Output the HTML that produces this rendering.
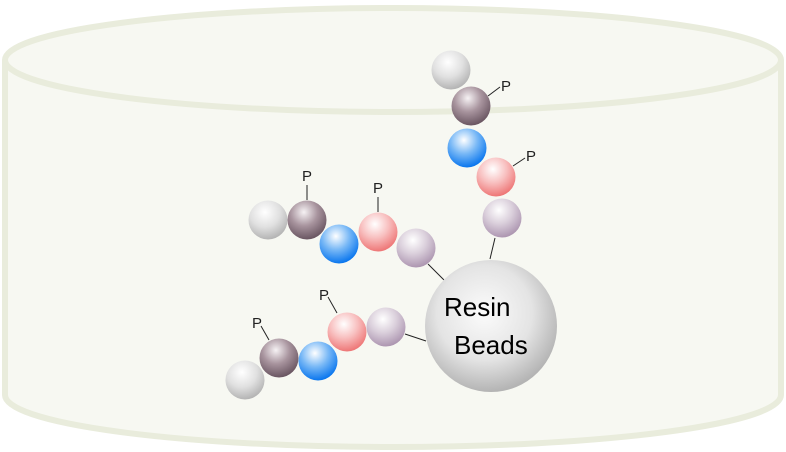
<!DOCTYPE html>
<html><head><style>html,body{margin:0;padding:0;background:#fff}svg{display:block}</style></head><body>
<svg width="786" height="452" viewBox="0 0 786 452" xmlns="http://www.w3.org/2000/svg">
<defs>
<radialGradient id="g" cx="42%" cy="30%" r="70%"><stop offset="0" stop-color="#fff"/><stop offset="0.55" stop-color="#e0e0e0"/><stop offset="1" stop-color="#b4b4b4"/></radialGradient>
<radialGradient id="d" cx="42%" cy="30%" r="70%"><stop offset="0" stop-color="#f6f2f4"/><stop offset="0.5" stop-color="#a8949e"/><stop offset="1" stop-color="#6a5662"/></radialGradient>
<radialGradient id="b" cx="42%" cy="30%" r="70%"><stop offset="0" stop-color="#fff"/><stop offset="0.5" stop-color="#78b8f6"/><stop offset="1" stop-color="#0a76ee"/></radialGradient>
<radialGradient id="p" cx="42%" cy="30%" r="70%"><stop offset="0" stop-color="#fff"/><stop offset="0.5" stop-color="#f8c0c0"/><stop offset="1" stop-color="#ee7777"/></radialGradient>
<radialGradient id="l" cx="42%" cy="30%" r="70%"><stop offset="0" stop-color="#fff"/><stop offset="0.5" stop-color="#dacfdb"/><stop offset="1" stop-color="#ad96b1"/></radialGradient>
<radialGradient id="r" cx="45%" cy="40%" r="60%"><stop offset="0" stop-color="#fbfbfb"/><stop offset="0.6" stop-color="#e4e4e4"/><stop offset="1" stop-color="#b4b4b4"/></radialGradient>
</defs>
<path d="M5,60 L5,395 A388,52 0 0 0 781,395 L781,60" fill="#f7f8f2" stroke="#e9ecdc" stroke-width="6"/>
<ellipse cx="393" cy="60" rx="388" ry="52" fill="#f7f8f2" stroke="#e9ecdc" stroke-width="6"/>
<g stroke="#222" stroke-width="1" fill="none">
<line x1="488" y1="96" x2="500" y2="87"/>
<line x1="513" y1="166" x2="525" y2="158"/>
<line x1="495" y1="238" x2="490" y2="259"/>
<line x1="307" y1="200" x2="307" y2="185"/>
<line x1="378" y1="212" x2="378" y2="197"/>
<line x1="428" y1="264" x2="444" y2="280"/>
<line x1="337" y1="313" x2="328" y2="297"/>
<line x1="269" y1="340" x2="261" y2="326"/>
<line x1="405" y1="334" x2="426" y2="341"/>
</g>
<g font-family="Liberation Sans, sans-serif" font-size="15" fill="#222">
<text x="501" y="91">P</text><text x="526" y="161">P</text>
<text x="302" y="181">P</text><text x="373" y="193">P</text>
<text x="319" y="300">P</text><text x="252" y="328">P</text>
</g>
<circle cx="451" cy="70" r="19.5" fill="url(#g)"/>
<circle cx="471" cy="106" r="19.5" fill="url(#d)"/>
<circle cx="467" cy="148" r="19.5" fill="url(#b)"/>
<circle cx="496" cy="177" r="19.5" fill="url(#p)"/>
<circle cx="502" cy="218" r="19.5" fill="url(#l)"/>
<circle cx="268" cy="220" r="19.5" fill="url(#g)"/>
<circle cx="307" cy="220" r="19.5" fill="url(#d)"/>
<circle cx="339" cy="244" r="19.5" fill="url(#b)"/>
<circle cx="378" cy="232" r="19.5" fill="url(#p)"/>
<circle cx="416" cy="248" r="19.5" fill="url(#l)"/>
<circle cx="245" cy="380" r="19.5" fill="url(#g)"/>
<circle cx="279" cy="358" r="19.5" fill="url(#d)"/>
<circle cx="318" cy="361" r="19.5" fill="url(#b)"/>
<circle cx="347" cy="332" r="19.5" fill="url(#p)"/>
<circle cx="386" cy="327" r="19.5" fill="url(#l)"/>
<circle cx="491" cy="326" r="66" fill="url(#r)"/>
<g font-family="Liberation Sans, sans-serif" font-size="26" fill="#000">
<text x="444" y="316">Resin</text><text x="454" y="354">Beads</text>
</g>
</svg>
</body></html>
